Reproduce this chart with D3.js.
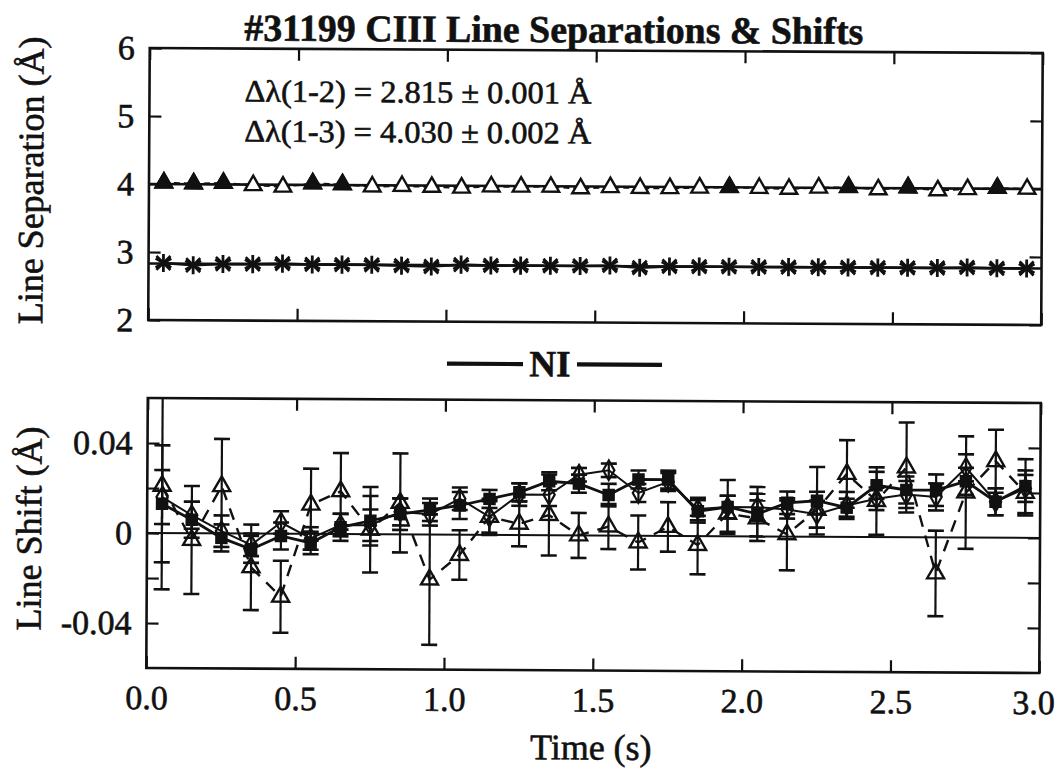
<!DOCTYPE html>
<html><head><meta charset="utf-8">
<script src="https://cdn.jsdelivr.net/npm/d3@7"></script>
<style>
body{margin:0;background:#fff;}
svg{display:block;}
text{font-family:"Liberation Serif","Times New Roman",serif;fill:#111;stroke:#111;stroke-width:0.6px;}
</style>
</head><body>
<svg id="c" width="1059" height="779"></svg>
<script>
// ---------------- data ----------------
const titleText = "#31199 CIII Line Separations & Shifts";
const times = [0.05,0.15,0.25,0.35,0.45,0.55,0.65,0.75,0.85,0.95,1.05,1.15,1.25,1.35,1.45,1.55,1.65,1.75,1.85,1.95,2.05,2.15,2.25,2.35,2.45,2.55,2.65,2.75,2.85,2.95];

// Line separations (Å)
const sep13 = [4.02,4.01,4.02,3.99,3.97,4.02,4.01,3.98,3.99,3.98,3.97,3.99,3.99,3.99,3.97,3.99,3.98,3.98,3.99,4.00,3.99,3.98,4.00,4.01,3.98,4.01,3.97,3.99,4.01,4.00];
const sep13Filled = [4.02,4.01,4.02,null,null,4.02,4.01,null,null,null,null,null,null,null,null,null,null,null,null,4.00,null,null,null,4.01,null,4.01,null,null,4.01,null];
const sep12 = [2.84,2.81,2.83,2.83,2.84,2.83,2.83,2.83,2.82,2.81,2.84,2.83,2.83,2.83,2.83,2.84,2.81,2.83,2.83,2.83,2.83,2.83,2.83,2.83,2.83,2.83,2.83,2.84,2.83,2.83];
const sepFits = [4.00, 2.83];
const sepNotes = ["\u0394\u03bb(1-2) = 2.815 \u00b1 0.001 \u00c5", "\u0394\u03bb(1-3) = 4.030 \u00b1 0.002 \u00c5"];

// Line shifts (Å) with errors
const shiftFilled = [0.013,0.006,-0.002,-0.007,-0.001,-0.004,0.003,0.006,0.009,0.011,0.013,0.016,0.019,0.024,0.023,0.018,0.025,0.025,0.011,0.013,0.010,0.015,0.016,0.013,0.023,0.021,0.021,0.025,0.016,0.023];
const errFilled   = [0.026,0.008,0.006,0.006,0.006,0.005,0.006,0.011,0.007,0.005,0.006,0.004,0.004,0.004,0.004,0.005,0.004,0.004,0.005,0.012,0.012,0.005,0.015,0.004,0.006,0.006,0.007,0.006,0.006,0.012];
const shiftDiamond = [0.016,0.008,0.001,-0.005,0.005,-0.002,0.004,0.004,0.010,0.009,0.016,0.008,0.018,0.018,0.027,0.029,0.019,0.024,0.012,0.013,0.013,0.012,0.010,0.014,0.017,0.019,0.018,0.031,0.016,0.022];
const errDiamond   = [0.012,0.006,0.007,0.005,0.005,0.005,0.005,0.007,0.006,0.005,0.005,0.007,0.005,0.005,0.003,0.003,0.004,0.004,0.005,0.005,0.006,0.004,0.006,0.006,0.005,0.006,0.006,0.006,0.006,0.006];
const shiftTriangle = [0.021,-0.003,0.021,-0.015,-0.028,0.013,0.019,0.002,0.014,-0.020,-0.009,0.008,0.005,0.009,0.000,0.004,-0.003,0.004,-0.004,0.010,0.008,0.001,0.012,0.028,0.016,0.031,-0.016,0.020,0.034,0.020];
const errTriangle   = [0.046,0.024,0.021,0.019,0.016,0.016,0.017,0.019,0.022,0.029,0.011,0.008,0.010,0.018,0.010,0.010,0.012,0.011,0.013,0.008,0.008,0.016,0.008,0.015,0.015,0.020,0.019,0.025,0.014,0.010];

// axes
const timeDomain = [0, 3];
const timeTicks = [0, 0.5, 1.0, 1.5, 2.0, 2.5, 3.0];
const timeTickLabels = ["0.0","0.5","1.0","1.5","2.0","2.5","3.0"];
const sepDomain = [2, 6];
const sepTicks = [2, 3, 4, 5, 6];
const sepTickLabels = ["2","3","4","5","6"];
const shiftDomain = [-0.06, 0.06];
const shiftTicks = [-0.04, -0.02, 0, 0.02, 0.04];
const shiftTickLabels = ["-0.04","","0","","0.04"];
const legendLabel = "NI";
const xTitle = "Time (s)";
const yTitleTop = "Line Separation (\u00c5)";
const yTitleBottom = "Line Shift (\u00c5)";

// ---------------- layout ----------------
const L = 148, R = 1041;
const topP = {t: 48, b: 320};
const botP = {t: 398, b: 668};
const svg = d3.select("#c");
const root = svg.append("g").attr("transform", "rotate(0.32,148,360)");

const x = d3.scaleLinear().domain(timeDomain).range([L, R]);
const ySep = d3.scaleLinear().domain(sepDomain).range([topP.b, topP.t]);
const yShift = d3.scaleLinear().domain(shiftDomain).range([botP.b, botP.t]);

// title
root.append("text").attr("x", 552).attr("y", 40).attr("text-anchor","middle")
  .attr("font-size", 38).attr("font-weight","bold")
  .attr("textLength", 619).attr("lengthAdjust","spacingAndGlyphs").text(titleText);

function frame(p){
  root.append("rect").attr("x", L).attr("y", p.t).attr("width", R-L).attr("height", p.b-p.t)
    .attr("fill","none").attr("stroke","#111").attr("stroke-width",2.6);
}
function styleAxis(g){
  g.select(".domain").remove();
  g.selectAll(".tick line").attr("stroke","#111").attr("stroke-width",2.2);
  g.selectAll(".tick text").attr("font-size",34).attr("fill","#111")
   .attr("font-family",'"Liberation Serif","Times New Roman",serif');
}

// ---- top panel axes ----
frame(topP);
root.append("g").attr("transform",`translate(0,${topP.b})`)
  .call(d3.axisBottom(x).tickValues(timeTicks).tickSize(-12).tickFormat(""))
  .call(styleAxis);
root.append("g").attr("transform",`translate(0,${topP.t})`)
  .call(d3.axisTop(x).tickValues(timeTicks).tickSize(-12).tickFormat(""))
  .call(styleAxis);
root.append("g").attr("transform",`translate(${L},0)`)
  .call(d3.axisLeft(ySep).tickValues(sepTicks).tickSize(-12).tickPadding(15)
    .tickFormat((d,i)=>sepTickLabels[i]))
  .call(styleAxis);
root.append("g").attr("transform",`translate(${R},0)`)
  .call(d3.axisRight(ySep).tickValues(sepTicks).tickSize(-12).tickFormat(""))
  .call(styleAxis);

// ---- bottom panel axes ----
frame(botP);
const xAxisG = root.append("g").attr("transform",`translate(0,${botP.b})`)
  .call(d3.axisBottom(x).tickValues(timeTicks).tickSize(-12).tickPadding(17)
    .tickFormat((d,i)=>timeTickLabels[i]))
  .call(styleAxis);
xAxisG.selectAll(".tick text").filter(d=>d===timeDomain[1]).attr("dx",-6);
root.append("g").attr("transform",`translate(0,${botP.t})`)
  .call(d3.axisTop(x).tickValues(timeTicks).tickSize(-12).tickFormat(""))
  .call(styleAxis);
root.append("g").attr("transform",`translate(${L},0)`)
  .call(d3.axisLeft(yShift).tickValues(shiftTicks).tickSize(-12).tickPadding(15)
    .tickFormat((d,i)=>shiftTickLabels[i]))
  .call(styleAxis);
root.append("g").attr("transform",`translate(${R},0)`)
  .call(d3.axisRight(yShift).tickValues(shiftTicks).tickSize(-12).tickFormat(""))
  .call(styleAxis);
// zero line
root.append("line").attr("x1",L).attr("x2",R).attr("y1",yShift(0)).attr("y2",yShift(0))
  .attr("stroke","#111").attr("stroke-width",2);

// axis titles
root.append("text").attr("transform",`translate(42,${(topP.t+topP.b)/2 - 3}) rotate(-90)`)
  .attr("text-anchor","middle").attr("font-size",36).text(yTitleTop);
root.append("text").attr("transform",`translate(42,529) rotate(-90)`)
  .attr("text-anchor","middle").attr("font-size",36).text(yTitleBottom);
root.append("text").attr("x", 593).attr("y", 757).attr("text-anchor","middle")
  .attr("font-size",36).text(xTitle);

// legend "—NI—"
root.append("line").attr("x1",447).attr("x2",523).attr("y1",362).attr("y2",362)
  .attr("stroke","#111").attr("stroke-width",4.2);
root.append("line").attr("x1",577).attr("x2",662).attr("y1",362).attr("y2",362)
  .attr("stroke","#111").attr("stroke-width",4.2);
root.append("text").attr("x",550).attr("y",374).attr("text-anchor","middle")
  .attr("font-size",37).attr("font-weight","bold").text(legendLabel);

// notes
root.append("text").attr("x",243).attr("y",101).attr("font-size",31)
  .attr("textLength",347).attr("lengthAdjust","spacingAndGlyphs").text(sepNotes[0]);
root.append("text").attr("x",243).attr("y",141).attr("font-size",31)
  .attr("textLength",347).attr("lengthAdjust","spacingAndGlyphs").text(sepNotes[1]);

// ---- top panel data ----
const topG = root.append("g");
sepFits.forEach(v=>{
  topG.append("line").attr("x1",x(timeDomain[0])).attr("x2",x(timeDomain[1]))
    .attr("y1",ySep(v)).attr("y2",ySep(v)).attr("stroke","#111").attr("stroke-width",2.6);
});
const lineSep = d3.line().defined(d=>d[1]!=null).x(d=>x(d[0])).y(d=>ySep(d[1]));
topG.append("path").datum(times.map((t,i)=>[t,sep13[i]])).attr("d",lineSep)
  .attr("fill","none").attr("stroke","#111").attr("stroke-width",2).attr("stroke-dasharray","6,4");
topG.append("path").datum(times.map((t,i)=>[t,sep12[i]])).attr("d",lineSep)
  .attr("fill","none").attr("stroke","#111").attr("stroke-width",2.6);
const triSym = d3.symbol().type(d3.symbolTriangle).size(120);
topG.selectAll(".t13").data(times.map((t,i)=>[t,sep13[i]])).join("path")
  .attr("transform",d=>`translate(${x(d[0])},${ySep(d[1])})`).attr("d",triSym)
  .attr("fill","#fff").attr("stroke","#111").attr("stroke-width",2.4);
topG.selectAll(".t13f").data(times.map((t,i)=>[t,sep13Filled[i]]).filter(d=>d[1]!=null)).join("path")
  .attr("transform",d=>`translate(${x(d[0])},${ySep(d[1])})`).attr("d",triSym)
  .attr("fill","#111").attr("stroke","#111").attr("stroke-width",2);
const astSym = d3.symbol().type(d3.symbolAsterisk).size(230);
const timesSym = d3.symbol().type(d3.symbolTimes).size(130);
const s12 = times.map((t,i)=>[t,sep12[i]]);
topG.selectAll(".a12").data(s12).join("path")
  .attr("transform",d=>`translate(${x(d[0])},${ySep(d[1])})`).attr("d",astSym)
  .attr("fill","none").attr("stroke","#111").attr("stroke-width",2.8);
topG.selectAll(".x12").data(s12).join("path")
  .attr("transform",d=>`translate(${x(d[0])},${ySep(d[1])})`).attr("d",timesSym)
  .attr("fill","none").attr("stroke","#111").attr("stroke-width",2.6);

// ---- bottom panel data ----
svg.append("defs").append("clipPath").attr("id","clipB").append("rect")
  .attr("x",L).attr("y",botP.t).attr("width",R-L).attr("height",botP.b-botP.t);
const botG = root.append("g").attr("clip-path","url(#clipB)");
const lineShift = d3.line().x(d=>x(d.t)).y(d=>yShift(d.v));
const series = [
  {v: shiftFilled, e: errFilled},
  {v: shiftDiamond, e: errDiamond},
  {v: shiftTriangle, e: errTriangle}
];
series.forEach(s=>{ s.pts = times.map((t,i)=>({t, v:s.v[i], e:s.e[i]})); });

// error bars
series.forEach(s=>{
  const g = botG.append("g");
  s.pts.forEach(p=>{
    const cx = x(p.t), y1 = yShift(p.v + p.e), y2 = yShift(p.v - p.e);
    g.append("line").attr("x1",cx).attr("x2",cx).attr("y1",y1).attr("y2",y2)
      .attr("stroke","#111").attr("stroke-width",2.2);
    [y1,y2].forEach(yy=>g.append("line").attr("x1",cx-8).attr("x2",cx+8).attr("y1",yy).attr("y2",yy)
      .attr("stroke","#111").attr("stroke-width",2.6));
  });
});
// connecting lines
botG.append("path").datum(series[0].pts).attr("d",lineShift).attr("fill","none")
  .attr("stroke","#111").attr("stroke-width",2.8);
botG.append("path").datum(series[1].pts).attr("d",lineShift).attr("fill","none")
  .attr("stroke","#111").attr("stroke-width",2);
botG.append("path").datum(series[2].pts).attr("d",lineShift).attr("fill","none")
  .attr("stroke","#111").attr("stroke-width",2.4).attr("stroke-dasharray","12,9");
// markers
botG.selectAll(".mf").data(series[0].pts).join("path")
  .attr("transform",d=>`translate(${x(d.t)},${yShift(d.v)})`).attr("d",d3.symbol().type(d3.symbolSquare).size(110))
  .attr("fill","#111").attr("stroke","#111").attr("stroke-width",2);
botG.selectAll(".md").data(series[1].pts).join("path")
  .attr("transform",d=>`translate(${x(d.t)},${yShift(d.v)})`).attr("d",d3.symbol().type(d3.symbolDiamond).size(110))
  .attr("fill","none").attr("stroke","#111").attr("stroke-width",2.2);
botG.selectAll(".mt").data(series[2].pts).join("path")
  .attr("transform",d=>`translate(${x(d.t)},${yShift(d.v)})`).attr("d",d3.symbol().type(d3.symbolTriangle).size(125))
  .attr("fill","none").attr("stroke","#111").attr("stroke-width",2.4);
</script>
</body></html>
